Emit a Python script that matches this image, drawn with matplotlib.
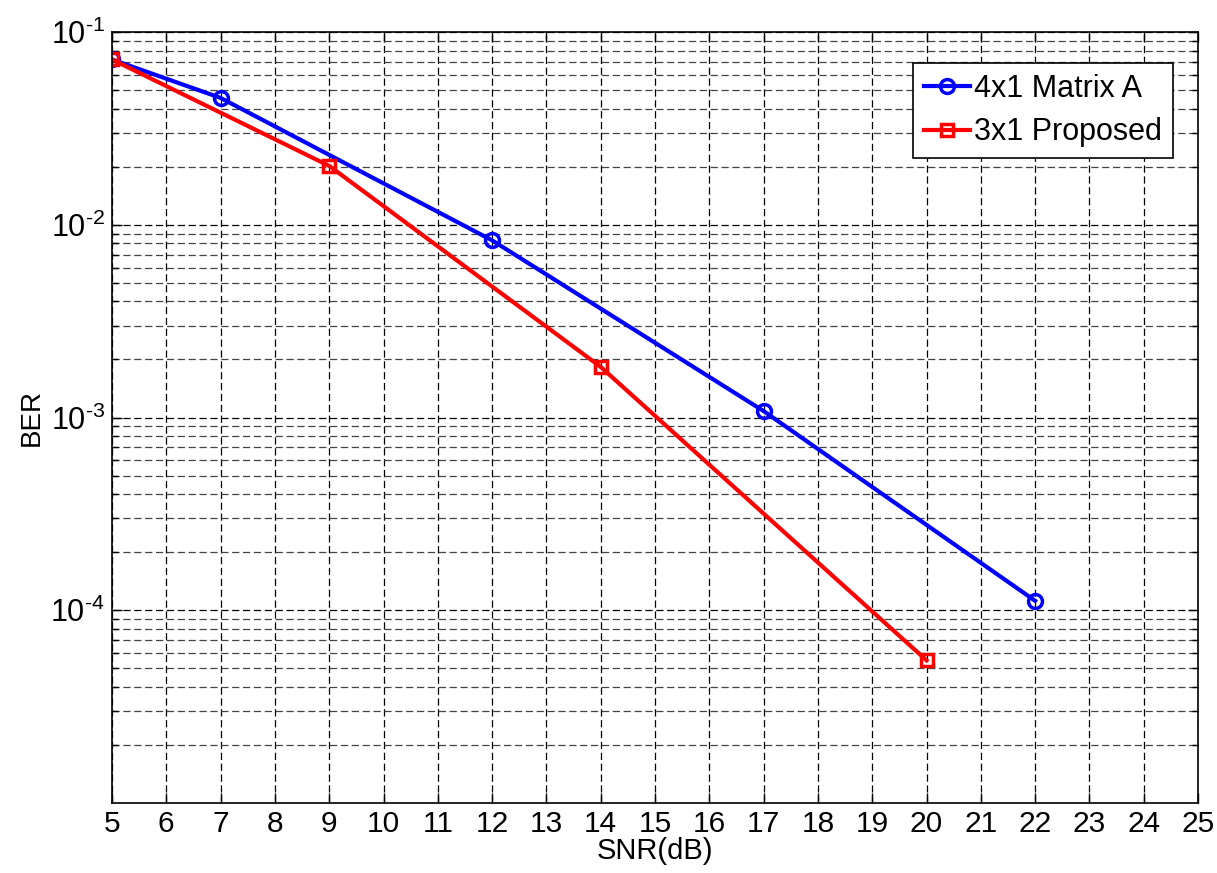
import matplotlib
matplotlib.use("Agg")
import matplotlib.pyplot as plt
import matplotlib.ticker as mticker
import numpy as np

# ── Data ──────────────────────────────────────────────────────────────────────
snr_a = [5, 7, 12, 17, 22]
ber_a = [0.072, 0.0455, 0.0083, 0.00108, 1.12e-4]

snr_p = [5, 9, 14, 20]
ber_p = [0.072, 0.0202, 0.00183, 5.5e-5]

labels = ["4x1 Matrix A", "3x1 Proposed"]
x_ticks = list(range(5, 26))
y_ticks = [1e-4, 1e-3, 1e-2, 1e-1]

# ── Style ─────────────────────────────────────────────────────────────────────
plt.rcParams["font.family"] = ["Liberation Sans", "DejaVu Sans"]
plt.rcParams["mathtext.fontset"] = "custom"
plt.rcParams["mathtext.rm"] = "Liberation Sans"
plt.rcParams["mathtext.default"] = "regular"


def pow10_label(v, pos):
    # MATLAB-style exponent with a plain hyphen
    e = int(round(np.log10(v)))
    return r"$10^{\text{-%d}}$" % (-e) if e < 0 else r"$10^{%d}$" % e


DPI = 100
fig = plt.figure(figsize=(1217 / DPI, 873 / DPI), dpi=DPI)
ax = fig.add_axes([112 / 1217, 1 - 803 / 873, (1198 - 112) / 1217, (803 - 32) / 873])

ax.plot(snr_a, ber_a, color="#0000ff", lw=3, marker="o", ms=10, mew=2.5,
        mfc="none", label=labels[0])
ax.plot(snr_p, ber_p, color="#ff0000", lw=3, marker="s", ms=9, mew=2.5,
        mfc="none", label=labels[1])

ax.set_yscale("log")
ax.set_xlim(5, 25)
ax.set_ylim(1e-5, 1e-1)
ax.set_xticks(x_ticks)
ax.set_yticks(y_ticks)
ax.yaxis.set_major_formatter(mticker.FuncFormatter(pow10_label))
ax.yaxis.set_minor_locator(mticker.LogLocator(base=10, subs=range(2, 10)))
ax.yaxis.set_minor_formatter(mticker.NullFormatter())

dash = (0, (5.8, 2.9))
ax.grid(True, which="major", color="black", lw=0.9, linestyle=dash)
ax.grid(True, which="minor", axis="y", color="#444444", lw=0.9, linestyle=dash)
ax.set_axisbelow(True)

ax.tick_params(which="both", direction="in", top=True, right=True,
               labelsize=22, width=1)
ax.tick_params(which="major", length=7)
ax.tick_params(which="minor", length=4)
ax.tick_params(axis="x", labelsize=21.5, pad=5)
ax.tick_params(axis="y", pad=5)
for s in ax.spines.values():
    s.set_linewidth(1.2)

ax.set_xlabel("SNR(dB)", fontsize=21, labelpad=-1)
ax.set_ylabel("BER", fontsize=20, labelpad=4)

leg = ax.legend(loc="upper right", bbox_to_anchor=(1173 / 1217, 1 - 63 / 873),
                bbox_transform=fig.transFigure, fontsize=22, fancybox=False,
                framealpha=1, edgecolor="black", handlelength=1.5,
                handletextpad=0.15, borderpad=0.35, labelspacing=0.45,
                borderaxespad=0)
leg.get_frame().set_linewidth(1.2)

fig.savefig("out.png", dpi=DPI)
